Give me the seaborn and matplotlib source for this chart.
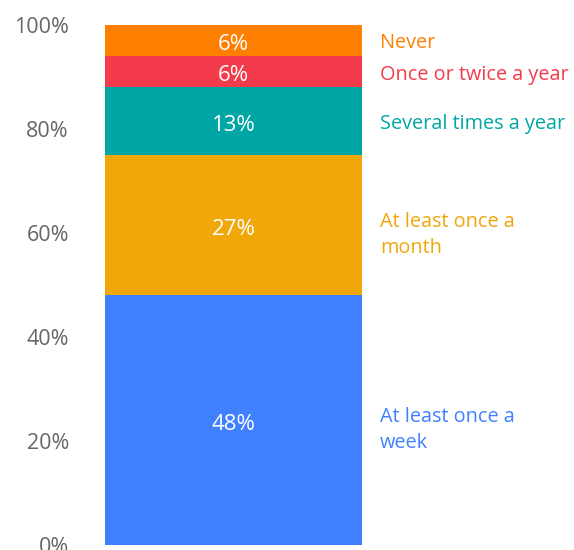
import matplotlib.pyplot as plt
import matplotlib.ticker as mtick
import numpy as np
import seaborn as sns

categories = ["At least once a\nweek", "At least once a\nmonth", "Several times a year",
              "Once or twice a year", "Never"]
shares = [48, 27, 13, 6, 6]
colors = ["#4080FF", "#F0A70A", "#00A6A4", "#F43B4B", "#FF8000"]
yticks = [0, 20, 40, 60, 80, 100]

sns.set_style("white")
plt.rcParams["font.family"] = ["Open Sans", "DejaVu Sans"]

fig = plt.figure(figsize=(5.74, 5.5), dpi=100)
ax = fig.add_axes([105 / 574, 5 / 550, 257 / 574, 520 / 550])

bottom = 0
for cat, val, col in zip(categories, shares, colors):
    sns.barplot(x=["Total"], y=[val], bottom=bottom, color=col, width=1.0,
                saturation=1, ax=ax, linewidth=0)
    mid = bottom + val / 2
    ax.annotate(f"{val}%", xy=(0, mid), xytext=(0, -3), textcoords="offset points",
                ha="center", va="center", color="white", fontsize=16)
    # legend-style labels to the right of the bar
    shift = -2 - 5 * cat.count("\n")
    ax.annotate(cat, xy=(1.0, mid), xycoords=ax.get_yaxis_transform(),
                xytext=(13, shift), textcoords="offset points",
                ha="left", va="center", color=col, fontsize=14.3,
                annotation_clip=False, linespacing=1.45)
    bottom += val

ax.set_xlim(-0.5, 0.5)
ax.set_ylim(0, 100)
ax.set_yticks(yticks)
ax.yaxis.set_major_formatter(mtick.PercentFormatter(decimals=0))
ax.tick_params(axis="y", length=0, pad=26, labelsize=15.5, labelcolor="#666666")
ax.set_xticks([])
ax.set_xlabel("")
ax.set_ylabel("")
sns.despine(ax=ax, left=True, bottom=True)

fig.savefig("out.png", dpi=100)
